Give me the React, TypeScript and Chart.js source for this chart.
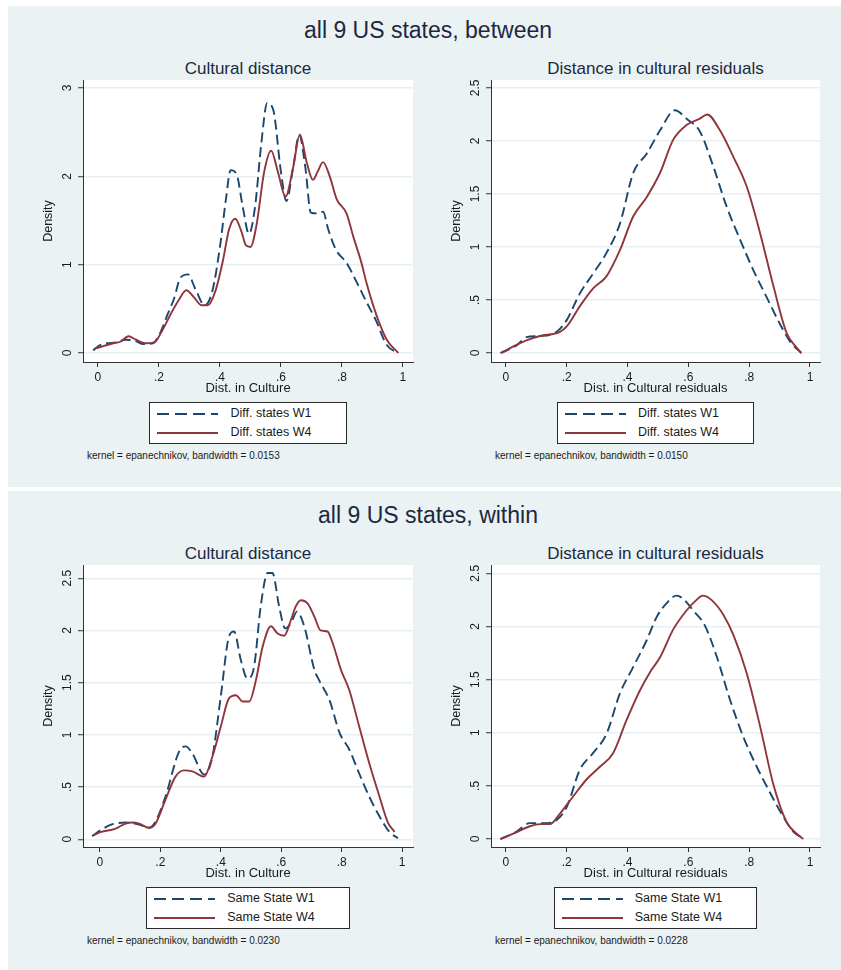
import React, { useEffect, useRef } from 'react';
import { Chart, registerables } from 'chart.js';

Chart.register(...registerables);

type Pt = [number, number];

// ---------- data ----------
const X_TICKS = [0, 0.2, 0.4, 0.6, 0.8, 1];
const X_TICK_LABELS = ['0', '.2', '.4', '.6', '.8', '1'];
const Y_TICKS_INT = [0, 1, 2, 3];
const Y_TICK_LABELS_INT = ['0', '1', '2', '3'];
const Y_TICKS_HALF = [0, 0.5, 1, 1.5, 2, 2.5];
const Y_TICK_LABELS_HALF = ['0', '.5', '1', '1.5', '2', '2.5'];

const BETWEEN_CULT_W1: Pt[] = [
  [-0.016, 0.03], [0.007, 0.09], [0.03, 0.11], [0.06, 0.12], [0.09, 0.15], [0.12, 0.14],
  [0.15, 0.1], [0.18, 0.11], [0.2, 0.2], [0.23, 0.45], [0.25, 0.62], [0.27, 0.85],
  [0.295, 0.89], [0.32, 0.72], [0.35, 0.54], [0.375, 0.7], [0.4, 1.2], [0.42, 1.75],
  [0.435, 2.07], [0.455, 2.02], [0.475, 1.65], [0.495, 1.35], [0.515, 1.65], [0.535, 2.35],
  [0.555, 2.83], [0.575, 2.75], [0.6, 2.05], [0.618, 1.72], [0.64, 2.1], [0.66, 2.47],
  [0.68, 2.1], [0.698, 1.59], [0.72, 1.58], [0.738, 1.6], [0.755, 1.4], [0.78, 1.17],
  [0.815, 1.02], [0.85, 0.79], [0.88, 0.58], [0.91, 0.38], [0.947, 0.09], [0.985, 0.0],
];
const BETWEEN_CULT_W4: Pt[] = [
  [-0.01, 0.05], [0.02, 0.08], [0.05, 0.11], [0.075, 0.13], [0.1, 0.19], [0.125, 0.15],
  [0.155, 0.11], [0.185, 0.12], [0.21, 0.25], [0.24, 0.45], [0.265, 0.6], [0.29, 0.71],
  [0.315, 0.63], [0.34, 0.54], [0.36, 0.54], [0.385, 0.7], [0.41, 1.05], [0.43, 1.4],
  [0.45, 1.52], [0.47, 1.38], [0.485, 1.22], [0.5, 1.2], [0.52, 1.45], [0.545, 2.05],
  [0.568, 2.29], [0.59, 2.05], [0.615, 1.77], [0.64, 2.1], [0.662, 2.47], [0.685, 2.15],
  [0.705, 1.96], [0.72, 2.05], [0.738, 2.16], [0.76, 2.0], [0.783, 1.74], [0.815, 1.58],
  [0.837, 1.32], [0.864, 1.02], [0.88, 0.8], [0.914, 0.42], [0.947, 0.15], [0.985, 0.0],
];
const BETWEEN_RESID_W1: Pt[] = [
  [-0.018, 0.0], [0.035, 0.07], [0.068, 0.15], [0.11, 0.16], [0.167, 0.2], [0.2, 0.31],
  [0.243, 0.56], [0.287, 0.75], [0.33, 0.94], [0.375, 1.22], [0.419, 1.7], [0.463, 1.88],
  [0.507, 2.1], [0.556, 2.29], [0.594, 2.21], [0.638, 2.09], [0.682, 1.76], [0.726, 1.38],
  [0.77, 1.07], [0.814, 0.78], [0.857, 0.53], [0.9, 0.28], [0.934, 0.11], [0.972, 0.0],
];
const BETWEEN_RESID_W4: Pt[] = [
  [-0.015, 0.0], [0.023, 0.06], [0.068, 0.12], [0.112, 0.16], [0.178, 0.2], [0.2, 0.25],
  [0.243, 0.44], [0.287, 0.61], [0.33, 0.72], [0.375, 0.97], [0.419, 1.29], [0.463, 1.47],
  [0.507, 1.7], [0.55, 2.01], [0.594, 2.15], [0.638, 2.21], [0.662, 2.25], [0.704, 2.1],
  [0.748, 1.85], [0.792, 1.57], [0.836, 1.13], [0.88, 0.63], [0.923, 0.19], [0.956, 0.05],
  [0.972, 0.0],
];
const WITHIN_CULT_W1: Pt[] = [
  [-0.026, 0.03], [0.004, 0.09], [0.037, 0.14], [0.085, 0.16], [0.13, 0.14], [0.162, 0.11],
  [0.184, 0.17], [0.217, 0.41], [0.262, 0.84], [0.284, 0.89], [0.306, 0.82], [0.345, 0.62],
  [0.372, 0.79], [0.4, 1.37], [0.427, 1.94], [0.444, 1.99], [0.466, 1.72], [0.488, 1.54],
  [0.51, 1.65], [0.532, 2.23], [0.555, 2.55], [0.571, 2.55], [0.593, 2.23], [0.613, 2.02],
  [0.632, 2.07], [0.652, 2.18], [0.676, 2.04], [0.71, 1.62], [0.726, 1.52], [0.76, 1.33],
  [0.793, 1.02], [0.825, 0.86], [0.858, 0.63], [0.891, 0.41], [0.925, 0.22], [0.958, 0.07],
  [0.986, 0.01],
];
const WITHIN_CULT_W4: Pt[] = [
  [-0.02, 0.04], [0.004, 0.07], [0.05, 0.1], [0.085, 0.15], [0.107, 0.16], [0.13, 0.15],
  [0.162, 0.11], [0.184, 0.15], [0.217, 0.38], [0.25, 0.6], [0.278, 0.66], [0.306, 0.65],
  [0.345, 0.6], [0.372, 0.79], [0.4, 1.08], [0.427, 1.35], [0.45, 1.38], [0.472, 1.32],
  [0.494, 1.32], [0.516, 1.52], [0.538, 1.84], [0.566, 2.04], [0.588, 1.97], [0.61, 1.95],
  [0.632, 2.1], [0.648, 2.23], [0.665, 2.29], [0.687, 2.26], [0.71, 2.13], [0.73, 2.0],
  [0.753, 1.99], [0.77, 1.88], [0.798, 1.62], [0.825, 1.43], [0.858, 1.08], [0.891, 0.73],
  [0.925, 0.41], [0.953, 0.16], [0.975, 0.07],
];
const WITHIN_RESID_W1: Pt[] = [
  [-0.018, 0.0], [0.035, 0.07], [0.079, 0.15], [0.134, 0.15], [0.167, 0.18], [0.2, 0.3],
  [0.243, 0.65], [0.287, 0.81], [0.331, 0.99], [0.375, 1.37], [0.419, 1.62], [0.463, 1.87],
  [0.496, 2.09], [0.529, 2.22], [0.561, 2.29], [0.583, 2.26], [0.616, 2.15], [0.654, 2.01],
  [0.693, 1.72], [0.737, 1.31], [0.781, 0.96], [0.825, 0.68], [0.868, 0.44], [0.912, 0.21],
  [0.945, 0.07], [0.976, 0.01],
];
const WITHIN_RESID_W4: Pt[] = [
  [-0.018, 0.0], [0.024, 0.05], [0.079, 0.12], [0.112, 0.14], [0.145, 0.14], [0.178, 0.24],
  [0.221, 0.4], [0.265, 0.56], [0.309, 0.68], [0.353, 0.81], [0.397, 1.12], [0.441, 1.4],
  [0.474, 1.57], [0.507, 1.71], [0.55, 1.97], [0.594, 2.15], [0.627, 2.25], [0.647, 2.29],
  [0.676, 2.25], [0.715, 2.11], [0.748, 1.92], [0.792, 1.56], [0.836, 1.06], [0.879, 0.52],
  [0.923, 0.16], [0.956, 0.05], [0.978, 0.0],
];

const LABELS_BETWEEN = ['Diff. states W1', 'Diff. states W4'];
const LABELS_WITHIN = ['Same State W1', 'Same State W4'];

// ---------- style ----------
const FONT = '"Liberation Sans", Arial, Helvetica, sans-serif';
const NAVY = '#1a476f';
const MAROON = '#90353b';
const PANEL_BG = '#eaf2f3';
const GRID = '#e6eff1';
const AXIS = '#333333';
const TEXT = '#1a1a1a';
const TITLE = '#1c2842';

const Y_AXIS_W = 46;
const X_AXIS_H = 38;
const PAD_TOP = 4;
const PAD_RIGHT = 7;
const PLOT_H = 282;

function DensityPlot(props: any) {
  const { left, top, plotWidth, xRange, yRange, yTicks, yTickLabels, xTitle, w1, w4 } = props;
  const ref = useRef<HTMLCanvasElement>(null);
  const W = Y_AXIS_W + plotWidth + PAD_RIGHT;
  const H = PAD_TOP + PLOT_H + X_AXIS_H;

  useEffect(() => {
    const bgPlugin = {
      id: 'plotBg',
      beforeDraw(chart: any) {
        const { ctx, chartArea } = chart;
        ctx.save();
        ctx.fillStyle = '#ffffff';
        ctx.fillRect(chartArea.left, chartArea.top, chartArea.right - chartArea.left, chartArea.bottom - chartArea.top);
        ctx.restore();
      },
    };
    const yLabelPlugin = {
      id: 'yRotLabels',
      afterDraw(chart: any) {
        const s = chart.scales.y;
        const ctx = chart.ctx;
        ctx.save();
        ctx.fillStyle = TEXT;
        ctx.font = `12px ${FONT}`;
        ctx.textAlign = 'center';
        ctx.textBaseline = 'middle';
        s.ticks.forEach((t: any, i: number) => {
          const y = s.getPixelForValue(t.value);
          ctx.save();
          ctx.translate(chart.chartArea.left - 15, y);
          ctx.rotate(-Math.PI / 2);
          ctx.fillText(yTickLabels[i], 0, 0);
          ctx.restore();
        });
        ctx.restore();
      },
    };

    const chart = new Chart(ref.current as HTMLCanvasElement, {
      type: 'line',
      data: {
        datasets: [
          {
            label: 'W1',
            data: w1.map(([x, y]: Pt) => ({ x, y })),
            borderColor: NAVY,
            borderWidth: 1.9,
            borderDash: [10, 5],
            pointRadius: 0,
            cubicInterpolationMode: 'monotone',
            fill: false,
            order: 1,
          },
          {
            label: 'W4',
            data: w4.map(([x, y]: Pt) => ({ x, y })),
            borderColor: MAROON,
            borderWidth: 1.9,
            pointRadius: 0,
            cubicInterpolationMode: 'monotone',
            fill: false,
            order: 0,
          },
        ],
      } as any,
      options: {
        responsive: false,
        animation: false,
        layout: { padding: { top: PAD_TOP, right: PAD_RIGHT, left: 0, bottom: 0 } },
        plugins: { legend: { display: false }, tooltip: { enabled: false }, title: { display: false } },
        scales: {
          x: {
            type: 'linear',
            min: xRange[0],
            max: xRange[1],
            afterBuildTicks: (s: any) => {
              s.ticks = X_TICKS.map((v) => ({ value: v }));
            },
            afterFit: (s: any) => {
              s.height = X_AXIS_H;
            },
            grid: { drawOnChartArea: false, drawTicks: true, tickLength: 5, tickColor: AXIS, tickWidth: 1 },
            border: { display: true, color: AXIS, width: 1 },
            ticks: {
              autoSkip: false,
              maxRotation: 0,
              minRotation: 0,
              padding: 3,
              color: TEXT,
              font: { family: FONT, size: 12 },
              callback: (_v: any, i: number) => X_TICK_LABELS[i],
            },
            title: {
              display: true,
              text: xTitle,
              color: TEXT,
              font: { family: FONT, size: 13 },
              padding: { top: 0, bottom: 4 },
            },
          },
          y: {
            type: 'linear',
            min: yRange[0],
            max: yRange[1],
            afterBuildTicks: (s: any) => {
              s.ticks = yTicks.map((v: number) => ({ value: v }));
            },
            afterFit: (s: any) => {
              s.width = Y_AXIS_W;
            },
            grid: { color: GRID, lineWidth: 1.5, drawTicks: true, tickLength: 5, tickColor: AXIS, tickWidth: 1 },
            border: { display: true, color: AXIS, width: 1 },
            ticks: { display: false },
            title: {
              display: true,
              text: 'Density',
              color: TEXT,
              font: { family: FONT, size: 12.5 },
              padding: { top: 4, bottom: 0 },
            },
          },
        },
      } as any,
      plugins: [bgPlugin, yLabelPlugin],
    });
    return () => chart.destroy();
  }, []);

  return (
    <canvas
      ref={ref}
      width={W}
      height={H}
      style={{ position: 'absolute', left: left - Y_AXIS_W, top: top - PAD_TOP, width: W, height: H }}
    />
  );
}

function LegendBox(props: any) {
  const { labels } = props;
  const row = (i: number) => (
    <div key={i} style={{ display: 'flex', alignItems: 'center', height: 19 }}>
      <svg width={61} height={4} style={{ marginRight: 12, display: 'block' }}>
        <line
          x1={0}
          y1={2}
          x2={61}
          y2={2}
          stroke={i === 0 ? NAVY : MAROON}
          strokeWidth={2}
          strokeDasharray={i === 0 ? '12 6' : undefined}
        />
      </svg>
      <span style={{ fontSize: 12.5, color: TEXT, whiteSpace: 'nowrap', lineHeight: '19px' }}>{labels[i]}</span>
    </div>
  );
  return (
    <div
      style={{
        border: '1px solid #2a2a2a',
        background: '#ffffff',
        padding: '1px 34px 1px 7px',
      }}
    >
      {row(0)}
      {row(1)}
    </div>
  );
}

function Subplot(props: any) {
  const { plotLeft, plotWidth, dy, title, note, labels } = props;
  const plotTop = 80 + dy;
  return (
    <>
      <div
        style={{
          position: 'absolute',
          left: plotLeft - 60,
          width: plotWidth + 120,
          top: 60 + dy,
          textAlign: 'center',
          fontSize: 17,
          lineHeight: '17px',
          color: TITLE,
          whiteSpace: 'nowrap',
        }}
      >
        {title}
      </div>
      <DensityPlot {...props} left={plotLeft} top={plotTop} />
      <div
        style={{
          position: 'absolute',
          left: plotLeft - 40,
          width: plotWidth + 80,
          top: 402 + dy,
          display: 'flex',
          justifyContent: 'center',
        }}
      >
        <LegendBox labels={labels} />
      </div>
      <div
        style={{
          position: 'absolute',
          left: plotLeft + 4,
          top: 450 + dy,
          fontSize: 10,
          lineHeight: '12px',
          color: TEXT,
          whiteSpace: 'nowrap',
        }}
      >
        {note}
      </div>
    </>
  );
}

function Panel(props: any) {
  const { dy, height, title, children } = props;
  return (
    <>
      <div style={{ position: 'absolute', left: 8, top: 6 + dy, width: 833, height, background: PANEL_BG }} />
      <div
        style={{
          position: 'absolute',
          left: 128,
          width: 600,
          top: 18.5 + dy,
          textAlign: 'center',
          fontSize: 23,
          lineHeight: '23px',
          color: TITLE,
          whiteSpace: 'nowrap',
        }}
      >
        {title}
      </div>
      {children}
    </>
  );
}

export default function App() {
  return (
    <div
      style={{
        position: 'absolute',
        left: 0,
        top: 0,
        width: 841,
        height: 970,
        background: '#ffffff',
        overflow: 'hidden',
        fontFamily: FONT,
      }}
    >
      <Panel dy={0} height={481} title="all 9 US states, between">
        <Subplot
          plotLeft={83}
          plotWidth={330}
          dy={0}
          title="Cultural distance"
          xTitle="Dist. in Culture"
          xRange={[-0.049, 1.033]}
          yRange={[-0.102, 3.09]}
          yTicks={Y_TICKS_INT}
          yTickLabels={Y_TICK_LABELS_INT}
          w1={BETWEEN_CULT_W1}
          w4={BETWEEN_CULT_W4}
          labels={LABELS_BETWEEN}
          note="kernel = epanechnikov, bandwidth = 0.0153"
        />
        <Subplot
          plotLeft={491}
          plotWidth={329}
          dy={0}
          title="Distance in cultural residuals"
          xTitle="Dist. in Cultural residuals"
          xRange={[-0.049, 1.033]}
          yRange={[-0.085, 2.575]}
          yTicks={Y_TICKS_HALF}
          yTickLabels={Y_TICK_LABELS_HALF}
          w1={BETWEEN_RESID_W1}
          w4={BETWEEN_RESID_W4}
          labels={LABELS_BETWEEN}
          note="kernel = epanechnikov, bandwidth = 0.0150"
        />
      </Panel>
      <Panel dy={485} height={479} title="all 9 US states, within">
        <Subplot
          plotLeft={83}
          plotWidth={330}
          dy={485}
          title="Cultural distance"
          xTitle="Dist. in Culture"
          xRange={[-0.056, 1.036]}
          yRange={[-0.074, 2.627]}
          yTicks={Y_TICKS_HALF}
          yTickLabels={Y_TICK_LABELS_HALF}
          w1={WITHIN_CULT_W1}
          w4={WITHIN_CULT_W4}
          labels={LABELS_WITHIN}
          note="kernel = epanechnikov, bandwidth = 0.0230"
        />
        <Subplot
          plotLeft={491}
          plotWidth={329}
          dy={485}
          title="Distance in cultural residuals"
          xTitle="Dist. in Cultural residuals"
          xRange={[-0.049, 1.033]}
          yRange={[-0.075, 2.578]}
          yTicks={Y_TICKS_HALF}
          yTickLabels={Y_TICK_LABELS_HALF}
          w1={WITHIN_RESID_W1}
          w4={WITHIN_RESID_W4}
          labels={LABELS_WITHIN}
          note="kernel = epanechnikov, bandwidth = 0.0228"
        />
      </Panel>
    </div>
  );
}
